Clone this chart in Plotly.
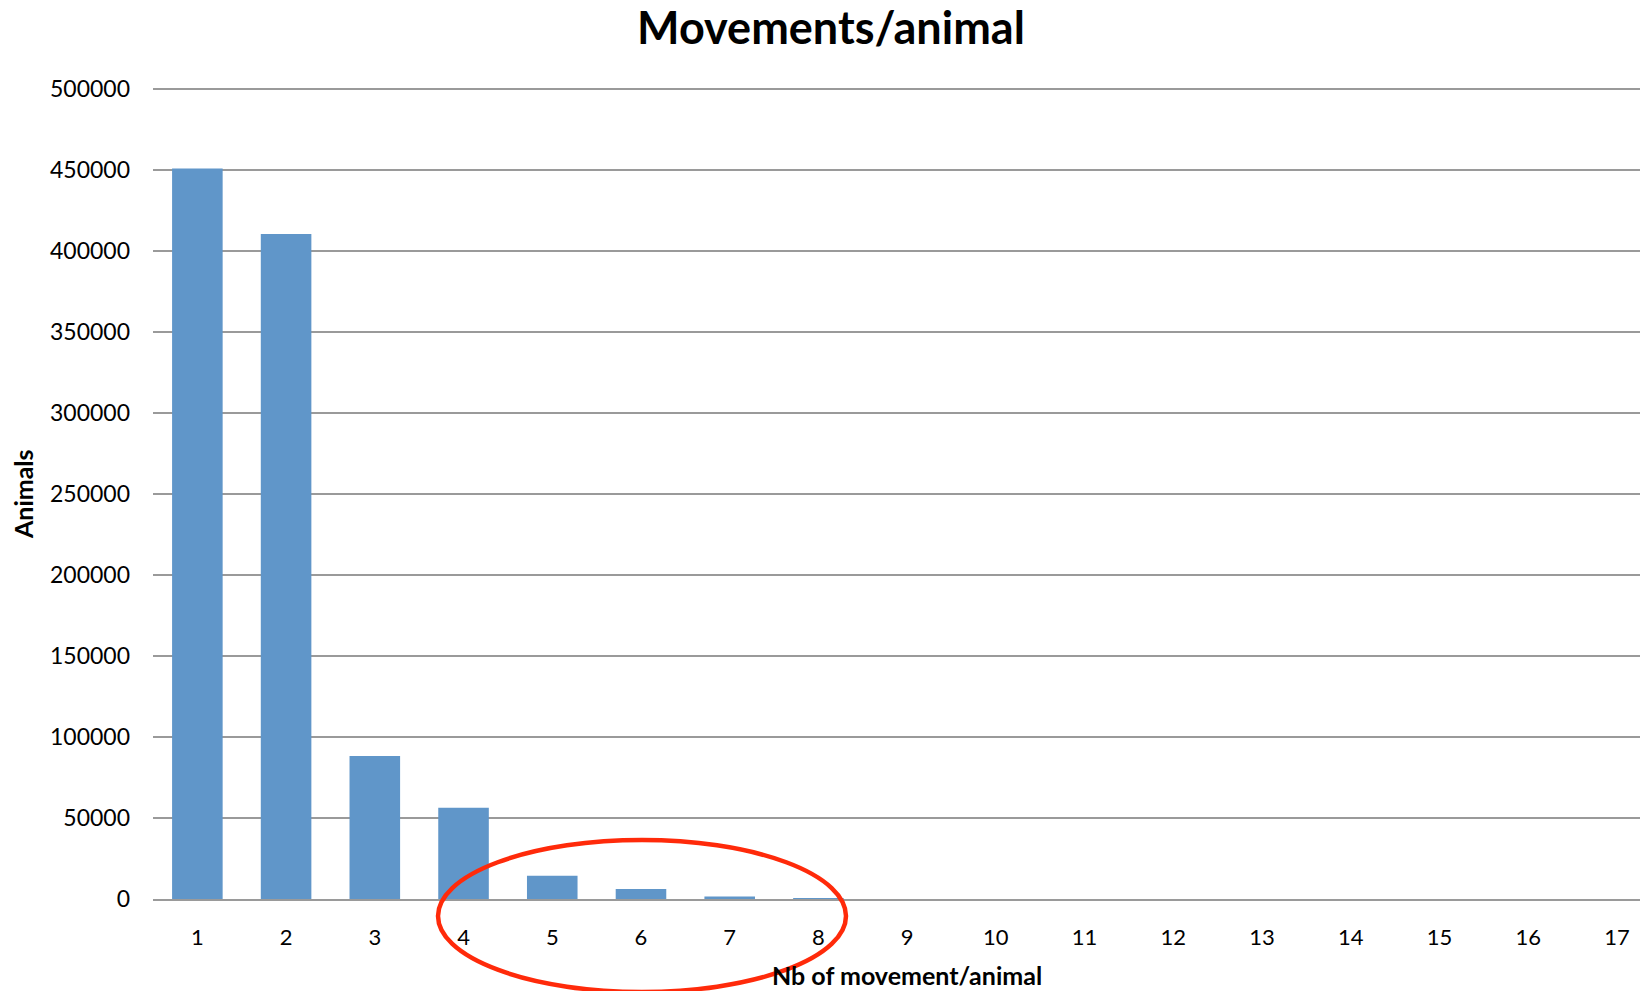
import plotly.graph_objects as go

# Data
categories = list(range(1, 18))
animals = [451000, 410500, 88300, 56400, 14400, 6200, 1500, 500,
           0, 0, 0, 0, 0, 0, 0, 0, 0]
y_ticks = [0, 50000, 100000, 150000, 200000, 250000, 300000, 350000, 400000, 450000, 500000]

title_text = "Movements/animal"
x_title = "Nb of movement/animal"
y_title = "Animals"

# page is offset by the 8px body margin of the html page
OFF = 8
W, H = 1648 - OFF, 991 - OFF
PLOT_LEFT, PLOT_BOTTOM = 153, 899          # page pixels
PX_PER_UNIT = 810 / 500000
Y_MAX = 505000
plot_h = Y_MAX * PX_PER_UNIT
L = PLOT_LEFT - OFF
B = (991 - PLOT_BOTTOM)
T = H - B - plot_h
R = 0
plot_w = W - L - R


def px_x(px):
    return (px - PLOT_LEFT) / plot_w


def px_y(py):
    return (PLOT_BOTTOM - py) / plot_h


FONT = "Lato"
GRID = "#9a9a9a"
BAR = "#6096C9"

fig = go.Figure()
fig.add_trace(go.Bar(
    x=categories, y=animals,
    marker=dict(color=BAR, line=dict(width=0)),
    width=0.57,
))

fig.update_layout(
    width=W, height=H,
    margin=dict(l=L, r=R, t=T, b=B, autoexpand=False),
    paper_bgcolor="white", plot_bgcolor="white",
    showlegend=False,
    font=dict(family=FONT, color="black"),
    title=dict(text="<b>" + title_text + "</b>", font=dict(family=FONT, size=45, color="black"),
               x=(831 - OFF) / W, xref="container", xanchor="center",
               y=1 - (28 - OFF) / H, yref="container", yanchor="middle"),
    xaxis=dict(
        range=[0.5, 17.35],
        tickmode="array", tickvals=categories, ticktext=[str(c) for c in categories],
        showgrid=False, zeroline=False,
        showline=True, linecolor=GRID, linewidth=2,
        ticks="", tickfont=dict(family=FONT, size=22, color="black"),
        ticklabelstandoff=18,
    ),
    yaxis=dict(
        range=[0, Y_MAX],
        tickmode="array", tickvals=y_ticks, ticktext=[str(v) for v in y_ticks],
        showgrid=True, gridcolor=GRID, gridwidth=2,
        zeroline=False, showline=False,
        ticks="", tickfont=dict(family=FONT, size=23, color="black"),
        ticklabelstandoff=22,
    ),
)

# axis titles
fig.add_annotation(text="<b>" + y_title + "</b>", xref="paper", yref="paper",
                   x=px_x(23), y=px_y(494), textangle=-90, showarrow=False,
                   xanchor="center", yanchor="middle",
                   font=dict(family=FONT, size=25, color="black"))
fig.add_annotation(text="<b>" + x_title + "</b>", xref="paper", yref="paper",
                   x=px_x(907), y=px_y(975), showarrow=False,
                   xanchor="center", yanchor="middle",
                   font=dict(family=FONT, size=25, color="black"))

# red highlight ellipse (page pixels)
ell_left, ell_right, ell_top, ell_bottom = 438, 846, 840, 992
fig.add_shape(type="circle", xref="paper", yref="paper",
              x0=px_x(ell_left), x1=px_x(ell_right),
              y0=px_y(ell_bottom), y1=px_y(ell_top),
              line=dict(color="#FF2A0A", width=4.5), layer="above")

fig.write_html("out.html")
